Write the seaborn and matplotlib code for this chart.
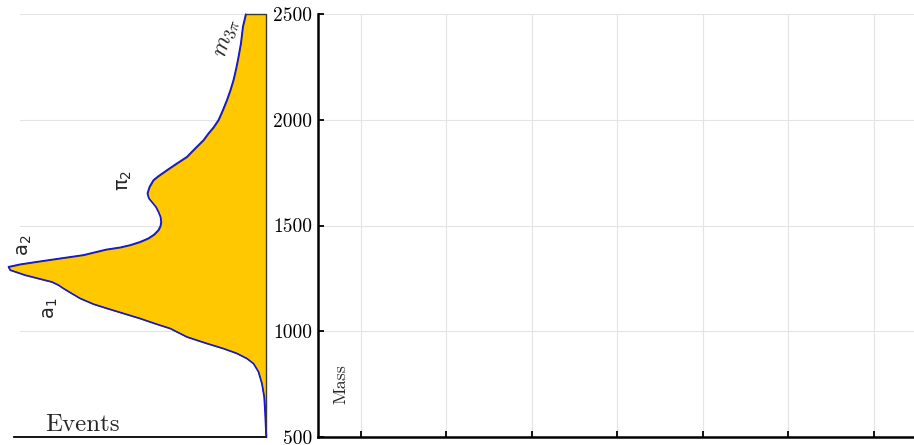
import matplotlib
matplotlib.use("Agg")
import matplotlib.pyplot as plt
import seaborn as sns

# Invariant-mass spectrum of the 3-pion system (events vs. mass, MeV)
mass = [2500, 2472, 2440, 2361, 2298, 2243, 2188, 2137, 2093, 2046, 1999,
        1964, 1936, 1904, 1865, 1825, 1794, 1762, 1734, 1715, 1683, 1652,
        1629, 1612, 1589, 1565, 1542, 1518, 1498, 1479, 1458, 1440, 1423,
        1408, 1397, 1387, 1361, 1345, 1329, 1317, 1305, 1290, 1266, 1250,
        1234, 1219, 1203, 1179, 1156, 1129, 1109, 1085, 1061, 1034, 1014,
        974, 943, 919, 896, 872, 848, 809, 754, 691, 612, 500]
events = [20.3, 21.7, 23.3, 25.3, 27.7, 30.0, 32.7, 36.0, 39.3, 43.3, 47.7,
          52.7, 57.7, 62.7, 71.0, 79.3, 89.3, 99.3, 107.7, 112.7, 116.7, 118.7,
          117.3, 114.3, 110.3, 107.7, 105.7, 105.0, 105.7, 107.7, 112.0, 117.7,
          126.0, 136.0, 146.0, 160.0, 182.7, 206.0, 229.3, 246.0, 257.7, 256.0,
          241.0, 227.7, 214.3, 207.7, 202.7, 194.3, 186.0, 172.7, 159.3, 142.7,
          126.0, 109.3, 96.0, 79.3, 59.3, 42.7, 29.3, 19.3, 12.7, 7.7, 4.3,
          2.0, 1.0, 0.0]

# Resonance labels placed along the spectrum
res_labels = [r"$m_{3\pi}$", r"$\mathrm{\pi}_2$", r"$\mathrm{a}_2$", r"$\mathrm{a}_1$"]
res_events = [41, 141, 242, 215]
res_mass = [2392, 1715, 1408, 1110]
res_rot = [73, 90, 90, 90]
res_math = ["cm", "dejavusans", "dejavusans", "dejavusans"]
res_size = [17, 14, 14, 14]

mass_ticks = [500, 1000, 1500, 2000, 2500]
x_ticks = [1, 2, 3, 4, 5, 6, 7]

sns.set_style("white")
plt.rcParams["font.family"] = ["cmr10", "DejaVu Serif"]
plt.rcParams["mathtext.fontset"] = "cm"
plt.rcParams["axes.formatter.use_mathtext"] = True

W, H = 914, 445
fig = plt.figure(figsize=(W / 100, H / 100), dpi=100)
ax_l = fig.add_axes([14 / W, 8 / H, 252 / W, 423 / H])
ax_r = fig.add_axes([318 / W, 8 / H, (W - 318) / W, 423 / H])

grid_kw = dict(color="#e4e4e4", lw=0.8, zorder=0)

# Left panel: spectrum drawn sideways, events growing to the left
for m in mass_ticks[1:]:
    ax_l.axhline(m, xmin=0.024, **grid_kw)
ax_l.fill_betweenx(mass, 0, events, facecolor="#FFC800", edgecolor="#3a3a30",
                   lw=1.0, zorder=2, clip_on=False)
sns.lineplot(x=events, y=mass, sort=False, estimator=None, ax=ax_l,
             color="#1414e6", lw=1.0, zorder=3, clip_on=False)
ax_l.set_xlim(252, 0)
ax_l.set_ylim(500, 2500)
ax_l.set_xticks([])
ax_l.set_yticks([])
for side in ("top", "left", "right"):
    ax_l.spines[side].set_visible(False)
ax_l.spines["bottom"].set_linewidth(1.3)
ax_l.spines["bottom"].set_color("black")
ax_l.set_xlabel("")
ax_l.set_ylabel("")

for txt, ev, ms, rot, mf, fs in zip(res_labels, res_events, res_mass,
                                    res_rot, res_math, res_size):
    ax_l.text(ev, ms, txt, rotation=rot, ha="center", va="center",
              fontsize=fs, math_fontfamily=mf, family="DejaVu Sans", zorder=4)

ax_l.text(31 / 252, 6 / 423, "Events", transform=ax_l.transAxes,
          fontsize=18, ha="left", va="baseline")

# Right panel: empty mass axis with grid
ax_r.set_xlim(0.5, 7.47)
ax_r.set_ylim(500, 2500)
ax_r.set_xticks(x_ticks)
ax_r.set_xticklabels([])
ax_r.set_yticks(mass_ticks)
ax_r.set_yticklabels([str(t) for t in mass_ticks])
for x in x_ticks:
    ax_r.axvline(x, **grid_kw)
for m in mass_ticks[1:]:
    ax_r.axhline(m, **grid_kw)
ax_r.tick_params(axis="both", direction="in", length=4, width=1.3,
                 labelsize=14, colors="black", pad=4,
                 bottom=True, left=True)
for side in ("top", "right"):
    ax_r.spines[side].set_visible(False)
for side in ("left", "bottom"):
    ax_r.spines[side].set_linewidth(1.8)
    ax_r.spines[side].set_color("black")
ax_r.text(23 / 596, 53 / 423, "Mass", transform=ax_r.transAxes,
          rotation=90, fontsize=13, ha="center", va="center")

fig.savefig("out.png", dpi=100)
